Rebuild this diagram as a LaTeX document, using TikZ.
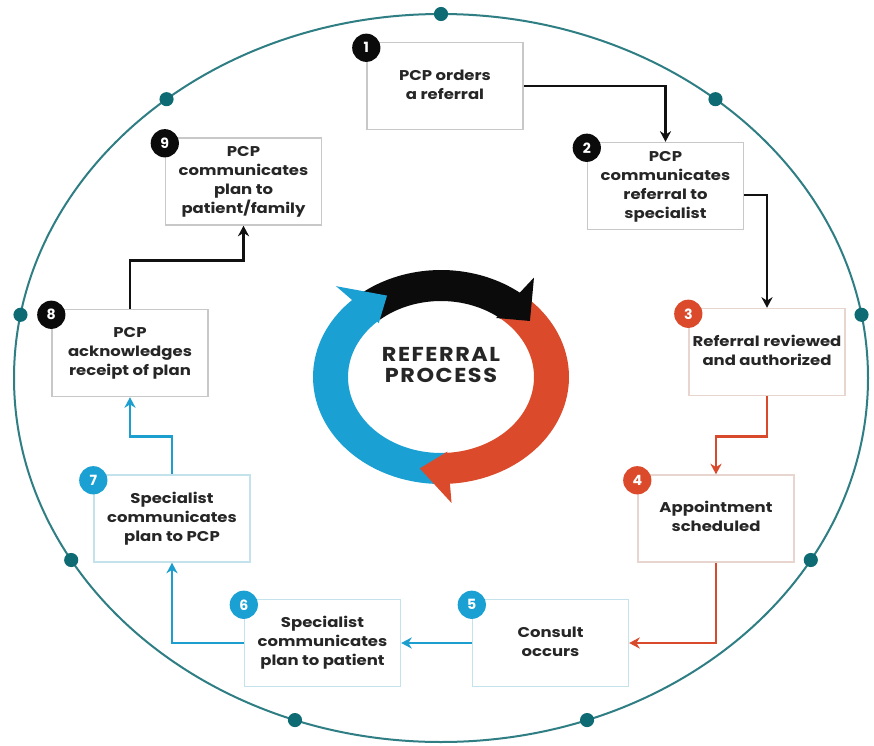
\documentclass[tikz,border=0pt]{standalone}
\usepackage{fontspec}
\setmainfont{Poppins}
\usepackage{graphicx}
\usetikzlibrary{arrows.meta}

\definecolor{ink}{HTML}{262626}
\definecolor{pcpline}{HTML}{111111}
\definecolor{redline}{HTML}{D9492B}
\definecolor{blueline}{HTML}{1C9ECF}
\definecolor{ringred}{HTML}{DB4A2B}
\definecolor{ringblue}{HTML}{1BA0D3}
\definecolor{ringblack}{HTML}{0B0B0B}
\definecolor{tealline}{HTML}{2F7E84}
\definecolor{tealdot}{HTML}{0E6B74}
\definecolor{greyframe}{HTML}{C8C8C8}
\definecolor{redframe}{HTML}{E9D5CF}
\definecolor{blueframe}{HTML}{C3E2EC}

% step label: bold, slightly condensed vertically
\newcommand\steptext[1]{\scalebox{1}[0.86]{\fontsize{14}{18.8}\selectfont\bfseries\begin{tabular}{@{}c@{}}#1\end{tabular}}}

\begin{document}
\begin{tikzpicture}[x=0.85pt,y=-0.85pt,
  stepbox/.style={draw, line width=1.2pt, fill=white, minimum width=132.6pt,
    minimum height=74pt, inner sep=0pt, text=ink},
  badge/.style={circle, fill=#1, minimum size=24pt, inner sep=0pt, text=white,
    font=\fontsize{12}{12}\selectfont\bfseries},
  flow/.style={line width=2.4pt, -{Stealth[length=9pt,width=9.5pt]}}]

\fill[white] (0,0) rectangle (874,745);
\useasboundingbox (0,0) rectangle (874,745);

% outer ring with dots
\draw[tealline, line width=1.7pt] (441,378) ellipse [x radius=362.95pt, y radius=309.4pt];
\foreach \a in {90,50,10,-30,-70,-110,-150,170,130}
  \fill[tealdot] ({441+427*cos(\a)},{378-364*sin(\a)}) circle (6pt);

% central cycle of three arrows
\begin{scope}[shift={(441,377)}]
  \fill[ringblack] plot[domain=-133:-50,samples=40,variable=\t] ({128*cos(\t)},{107*sin(\t)})
    -- plot[domain=-50:-133,samples=40,variable=\t] ({93*cos(\t)},{76*sin(\t)}) -- cycle;
  \fill[ringred] plot[domain=-51:88,samples=60,variable=\t] ({128*cos(\t)},{107*sin(\t)})
    -- plot[domain=88:-51,samples=60,variable=\t] ({93*cos(\t)},{76*sin(\t)}) -- cycle;
  \fill[ringblue] plot[domain=87:228,samples=60,variable=\t] ({128*cos(\t)},{107*sin(\t)})
    -- plot[domain=228:87,samples=60,variable=\t] ({93*cos(\t)},{76*sin(\t)}) -- cycle;
  % arrow heads
  \fill[ringblack] ({0.70*128*cos(-52)},{0.70*107*sin(-52)}) -- ({1.18*128*cos(-52)},{1.18*107*sin(-52)})
    -- ({0.87*128*cos(-37)},{0.87*107*sin(-37)}) -- cycle;
  \fill[ringred] ({0.70*128*cos(86)},{0.70*107*sin(86)}) -- ({1.18*128*cos(86)},{1.18*107*sin(86)})
    -- ({0.87*128*cos(101)},{0.87*107*sin(101)}) -- cycle;
  \fill[ringblue] ({0.70*128*cos(226)},{0.70*107*sin(226)}) -- ({1.18*128*cos(226)},{1.18*107*sin(226)})
    -- ({0.87*128*cos(241)},{0.87*107*sin(241)}) -- cycle;
\end{scope}

\node[text=ink] (title) at (441,368) {\scalebox{1}[0.9]{\fontsize{19}{19.8}\selectfont\bfseries\addfontfeature{LetterSpace=7}\begin{tabular}{@{}c@{}}REFERRAL\\PROCESS\end{tabular}}};

% steps
\node[stepbox, draw=greyframe] (s1) at (445,86)    {\steptext{PCP orders\\a referral}};
\node[stepbox, draw=greyframe] (s2) at (665.5,186) {\steptext{PCP\\communicates\\referral to\\specialist}};
\node[stepbox, draw=redframe]  (s3) at (767,352)   {\steptext{Referral reviewed\\and authorized}};
\node[stepbox, draw=redframe]  (s4) at (716,518.5) {\steptext{Appointment\\scheduled}};
\node[stepbox, draw=blueframe] (s5) at (550.5,643) {\steptext{Consult\\occurs}};
\node[stepbox, draw=blueframe] (s6) at (322.5,643) {\steptext{Specialist\\communicates\\plan to patient}};
\node[stepbox, draw=blueframe] (s7) at (172,518.5) {\steptext{Specialist\\communicates\\plan to PCP}};
\node[stepbox, draw=greyframe] (s8) at (130,353)   {\steptext{PCP\\acknowledges\\receipt of plan}};
\node[stepbox, draw=greyframe] (s9) at (243.5,181.5) {\steptext{PCP\\communicates\\plan to\\patient/family}};

% numbered badges
\node[badge=ringblack] (b1) at ([yshift=-5.1pt]s1.north west) {1};
\node[badge=ringblack] (b2) at ([yshift=-5.1pt]s2.north west) {2};
\node[badge=ringred]   (b3) at ([yshift=-5.1pt]s3.north west) {3};
\node[badge=ringred]   (b4) at ([yshift=-5.1pt]s4.north west) {4};
\node[badge=ringblue]  (b5) at ([yshift=-5.1pt]s5.north west) {5};
\node[badge=ringblue]  (b6) at ([yshift=-5.1pt]s6.north west) {6};
\node[badge=ringblue]  (b7) at ([yshift=-5.1pt]s7.north west) {7};
\node[badge=ringblack] (b8) at ([yshift=-5.1pt]s8.north west) {8};
\node[badge=ringblack] (b9) at ([yshift=-5.1pt]s9.north west) {9};

% connectors
\draw[flow, pcpline] (s1.east) -| (s2.north);
\draw[flow, pcpline] ([yshift=-7.65pt]s2.east) -| (s3.north);
\draw[flow, redline] (s3.south) -- ++(0,40) -| (s4.north);
\draw[flow, redline] (s4.south) |- (s5.east);
\draw[flow, blueline] (s5.west) -- (s6.east);
\draw[flow, blueline] (s6.west) -| (s7.south);
\draw[flow, blueline] (s7.north) -- ++(0,-38) -| (s8.south);
\draw[flow, pcpline] (s8.north) -- ++(0,-48) -| (s9.south);
\end{tikzpicture}
\end{document}
